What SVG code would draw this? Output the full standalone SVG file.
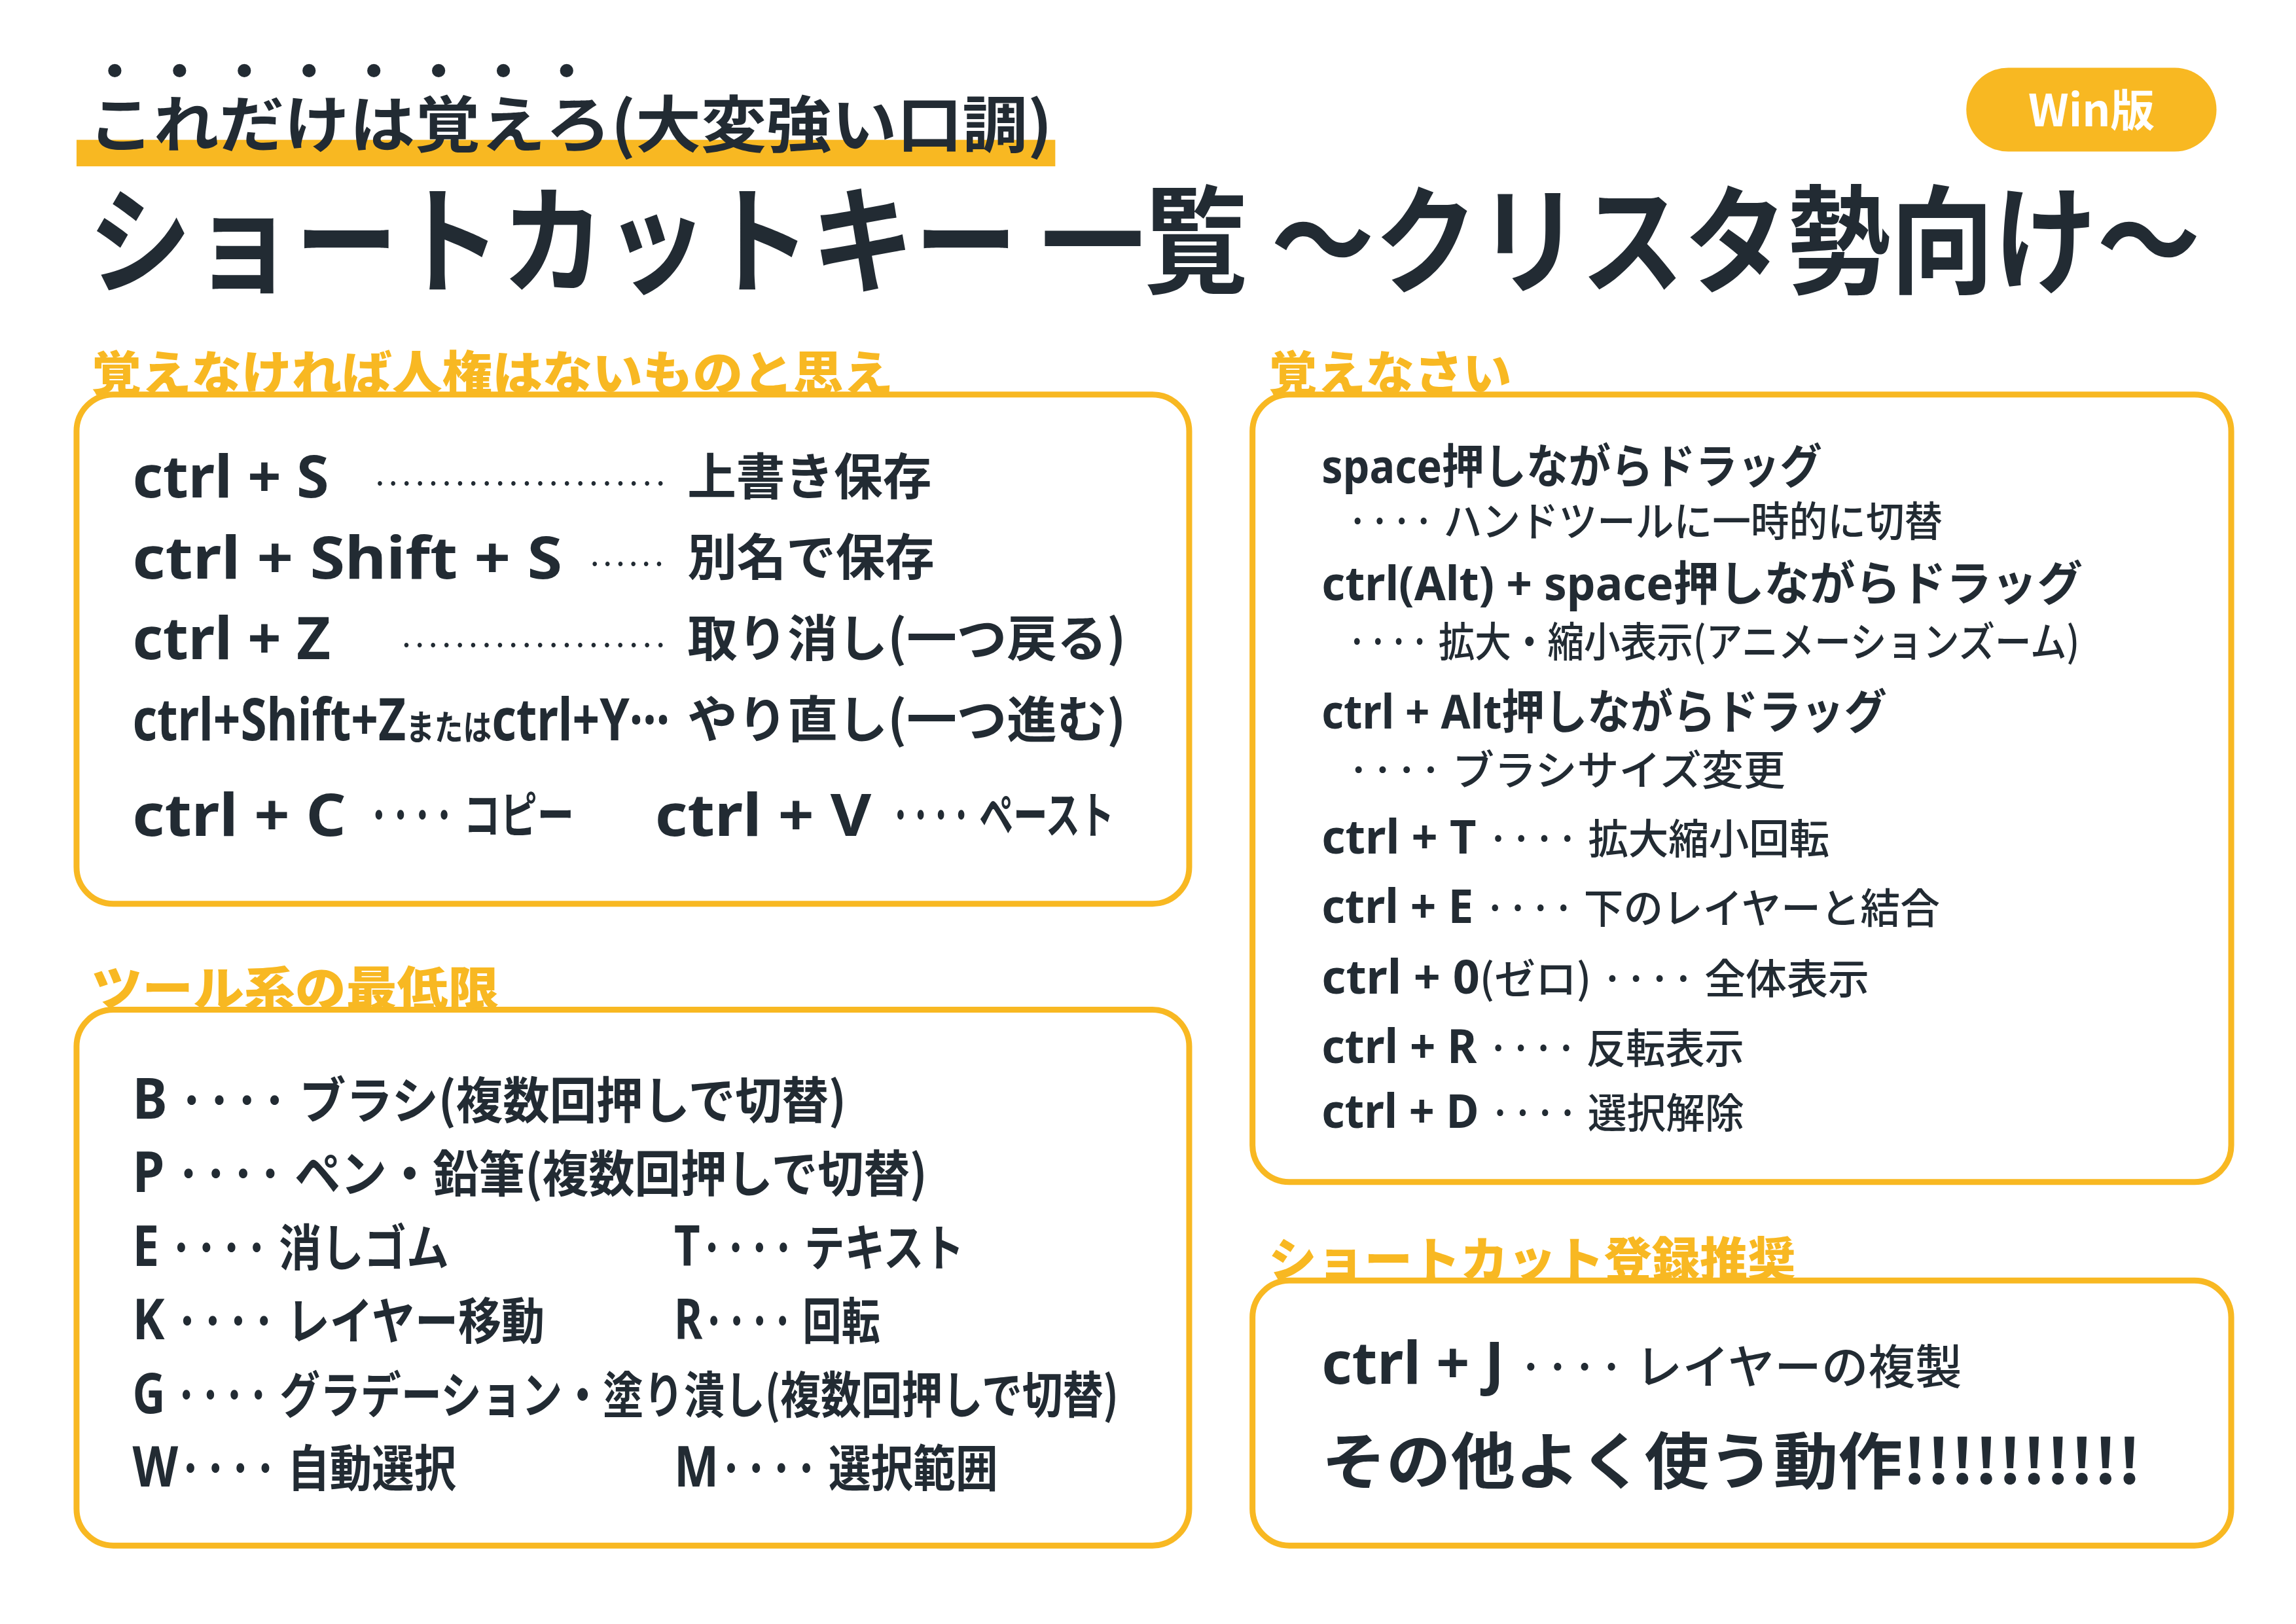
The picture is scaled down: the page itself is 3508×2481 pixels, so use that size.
<svg xmlns="http://www.w3.org/2000/svg" width="3508" height="2481" viewBox="0 0 3508 2481">
<style>
text{font-family:"Noto Sans CJK JP","Noto Sans",sans-serif;fill:#222b33;font-weight:700}
.k{font-family:"Noto Sans","Noto Sans CJK JP",sans-serif;font-weight:700}
.sec{fill:#f8b822;font-size:32px;font-weight:900}
.box{fill:#fff;stroke:#f8b822;stroke-width:4}
.a{font-size:40px}
.b{font-size:34px}
.c{font-size:32px}
.d{font-size:28px;font-weight:500}
.l{font-weight:400}
</style>
<rect width="3508" height="2481" fill="#fff"/>
<g transform="scale(2.2487)">
<g id="header">
<rect x="52" y="95" width="665" height="18" fill="#f8b822"/>
<g fill="#222b33">
<circle cx="78" cy="48" r="4.5"/><circle cx="122" cy="48" r="4.5"/><circle cx="166" cy="48" r="4.5"/><circle cx="210" cy="48" r="4.5"/><circle cx="254" cy="48" r="4.5"/><circle cx="298" cy="48" r="4.5"/><circle cx="342" cy="48" r="4.5"/><circle cx="385" cy="48" r="4.5"/>
</g>
<text x="60" y="100" font-size="42" font-weight="900" textLength="655" lengthAdjust="spacingAndGlyphs">これだけは覚えろ(大変強い口調)</text>
<rect x="1336" y="46" width="170" height="57" rx="28.5" fill="#f8b822"/>
<text x="1421" y="86" font-size="30" font-weight="900" text-anchor="middle" style="fill:#fff">Win版</text>
<text x="60" y="193" font-size="80" font-weight="900" textLength="1435" lengthAdjust="spacingAndGlyphs">ショートカットキー 一覧 ～クリスタ勢向け～</text>
</g>
<g id="box1">
<rect class="box" x="52" y="268" width="756" height="346" rx="25"/>
<text class="sec" x="62" y="265" textLength="545" lengthAdjust="spacingAndGlyphs">覚えなければ人権はないものと思え</text>
<text class="k a" x="90" y="338">ctrl + S</text>
<text class="l" x="252" y="336" font-size="22" textLength="203" lengthAdjust="spacing">······················</text>
<text class="b" x="467" y="336" textLength="166" lengthAdjust="spacingAndGlyphs">上書き保存</text>
<text class="k a" x="90" y="393" textLength="292" lengthAdjust="spacingAndGlyphs">ctrl + Shift + S</text>
<text class="l" x="398" y="391" font-size="22" textLength="56" lengthAdjust="spacing">······</text>
<text class="b" x="467" y="391" textLength="168" lengthAdjust="spacingAndGlyphs">別名で保存</text>
<text class="k a" x="90" y="448">ctrl + Z</text>
<text class="l" x="270" y="446" font-size="22" textLength="185" lengthAdjust="spacing">····················</text>
<text class="b" x="467" y="446" textLength="298" lengthAdjust="spacingAndGlyphs">取り消し(一つ戻る)</text>
<text class="k" x="90" y="503" font-size="40" textLength="365" lengthAdjust="spacingAndGlyphs">ctrl+Shift+Z<tspan font-size="24">または</tspan>ctrl+Y···</text>
<text class="b" x="467" y="501" textLength="298" lengthAdjust="spacingAndGlyphs">やり直し(一つ進む)</text>
<text class="k a" x="90" y="568" textLength="145" lengthAdjust="spacingAndGlyphs">ctrl + C</text>
<text class="b" x="250" y="566" textLength="140" lengthAdjust="spacingAndGlyphs">···· コピー</text>
<text class="k a" x="445" y="568" textLength="147" lengthAdjust="spacingAndGlyphs">ctrl + V</text>
<text class="b" x="605" y="566" textLength="152" lengthAdjust="spacingAndGlyphs">···· ペースト</text>
</g>
<g id="box2">
<rect class="box" x="52" y="686" width="756" height="364" rx="25"/>
<text class="sec" x="62" y="683" textLength="277" lengthAdjust="spacingAndGlyphs">ツール系の最低限</text>
<text class="b" x="90" y="760" textLength="485" lengthAdjust="spacingAndGlyphs"><tspan class="k" font-size="38">B</tspan> ···· ブラシ(複数回押しで切替)</text>
<text class="b" x="90" y="810" textLength="540" lengthAdjust="spacingAndGlyphs"><tspan class="k" font-size="38">P</tspan> ···· ペン・鉛筆(複数回押しで切替)</text>
<text class="b" x="90" y="860" textLength="215" lengthAdjust="spacingAndGlyphs"><tspan class="k" font-size="38">E</tspan> ···· 消しゴム</text>
<text class="b" x="90" y="910" textLength="280" lengthAdjust="spacingAndGlyphs"><tspan class="k" font-size="38">K</tspan> ···· レイヤー移動</text>
<text class="b" x="90" y="960" textLength="670" lengthAdjust="spacingAndGlyphs"><tspan class="k" font-size="38">G</tspan> ···· グラデーション・塗り潰し(複数回押しで切替)</text>
<text class="b" x="90" y="1010" textLength="220" lengthAdjust="spacingAndGlyphs"><tspan class="k" font-size="38">W</tspan>···· 自動選択</text>
<text class="b" x="458" y="860" textLength="197" lengthAdjust="spacingAndGlyphs"><tspan class="k" font-size="38">T</tspan>···· テキスト</text>
<text class="b" x="458" y="910" textLength="140" lengthAdjust="spacingAndGlyphs"><tspan class="k" font-size="38">R</tspan>···· 回転</text>
<text class="b" x="458" y="1010" textLength="220" lengthAdjust="spacingAndGlyphs"><tspan class="k" font-size="38">M</tspan>···· 選択範囲</text>
</g>
<g id="box3">
<rect class="box" x="851" y="268" width="665" height="535" rx="25"/>
<text class="sec" x="862" y="265" textLength="165" lengthAdjust="spacingAndGlyphs">覚えなさい</text>
<text class="c" x="898" y="328" textLength="340" lengthAdjust="spacingAndGlyphs"><tspan class="k">space</tspan>押しながらドラッグ</text>
<text class="d" x="915" y="364" textLength="405" lengthAdjust="spacingAndGlyphs">···· ハンドツールに一時的に切替</text>
<text class="c" x="898" y="408" textLength="517" lengthAdjust="spacingAndGlyphs"><tspan class="k">ctrl(Alt) + space</tspan>押しながらドラッグ</text>
<text class="d" x="915" y="446" textLength="498" lengthAdjust="spacingAndGlyphs">···· 拡大・縮小表示(アニメーションズーム)</text>
<text class="c" x="898" y="495" textLength="384" lengthAdjust="spacingAndGlyphs"><tspan class="k">ctrl + Alt</tspan>押しながらドラッグ</text>
<text class="d" x="915" y="533" textLength="298" lengthAdjust="spacingAndGlyphs">···· ブラシサイズ変更</text>
<text class="c" x="898" y="580" textLength="345" lengthAdjust="spacingAndGlyphs"><tspan class="k">ctrl + T</tspan> <tspan font-size="28" font-weight="500">···· 拡大縮小回転</tspan></text>
<text class="c" x="898" y="627" textLength="420" lengthAdjust="spacingAndGlyphs"><tspan class="k">ctrl + E</tspan> <tspan font-size="28" font-weight="500">···· 下のレイヤーと結合</tspan></text>
<text class="c" x="898" y="675" textLength="372" lengthAdjust="spacingAndGlyphs"><tspan class="k">ctrl + 0</tspan><tspan font-size="28" font-weight="500">(ゼロ) ···· 全体表示</tspan></text>
<text class="c" x="898" y="722" textLength="287" lengthAdjust="spacingAndGlyphs"><tspan class="k">ctrl + R</tspan> <tspan font-size="28" font-weight="500">···· 反転表示</tspan></text>
<text class="c" x="898" y="766" textLength="287" lengthAdjust="spacingAndGlyphs"><tspan class="k">ctrl + D</tspan> <tspan font-size="28" font-weight="500">···· 選択解除</tspan></text>
</g>
<g id="box4">
<rect class="box" x="851" y="870" width="665" height="180" rx="25"/>
<text class="sec" x="862" y="867" textLength="358" lengthAdjust="spacingAndGlyphs">ショートカット登録推奨</text>
<text x="898" y="940" font-size="40" textLength="435" lengthAdjust="spacingAndGlyphs"><tspan class="k">ctrl + J</tspan> <tspan font-size="32" font-weight="500">···· レイヤーの複製</tspan></text>
<text x="898" y="1008" font-size="42" font-weight="900" textLength="557" lengthAdjust="spacingAndGlyphs">その他よく使う動作!!!!!!!!!!</text>
</g>
<g id="connectors"/>
</g>
</svg>
